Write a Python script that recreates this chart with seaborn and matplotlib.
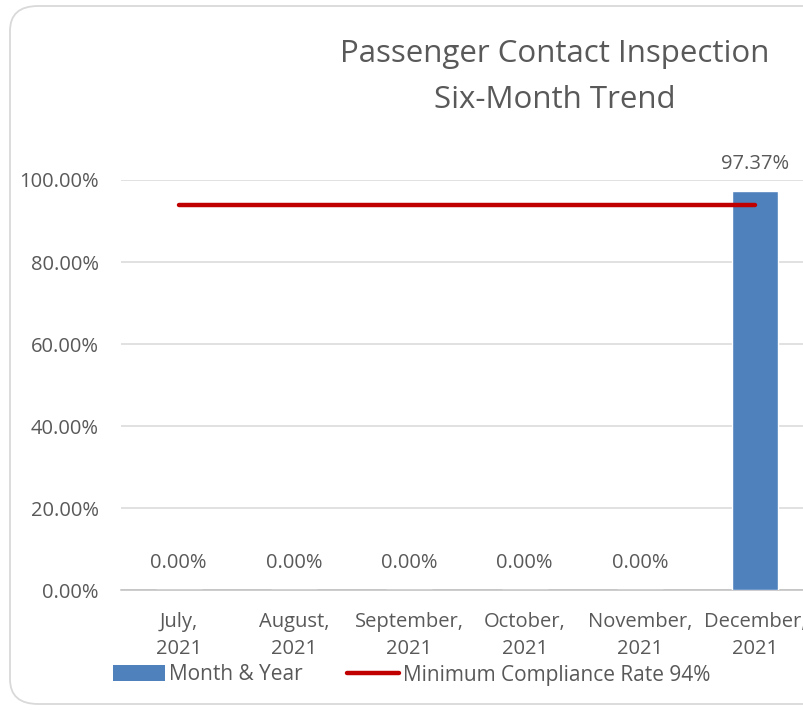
import matplotlib

matplotlib.use("Agg")

import matplotlib.pyplot as plt
import pandas as pd
import seaborn as sns
from matplotlib.lines import Line2D
from matplotlib.patches import FancyBboxPatch, Patch
from matplotlib.ticker import FuncFormatter, MultipleLocator

months = ["July,\n2021", "August,\n2021", "September,\n2021", "October,\n2021",
          "November,\n2021", "December,\n2021"]
compliance = [0.0, 0.0, 0.0, 0.0, 0.0, 0.9737]
minimum_rate = [0.94, 0.94, 0.94, 0.94, 0.94, 0.94]

TEXT = "#595959"
BAR = "#4f81bd"
LINE = "#c00000"
FS = 14.5

sns.set_style("white")
plt.rcParams["font.family"] = ["Open Sans", "DejaVu Sans"]

df = pd.DataFrame({"Month": months, "Rate": compliance, "Minimum": minimum_rate})

fig = plt.figure(figsize=(8.04, 7.10), dpi=100)
fig.patch.set_facecolor("white")

# chart border (Excel-style rounded frame, clipped on the right)
frame = FancyBboxPatch((10 / 804, 6 / 710), 830 / 804, 698 / 710,
                       boxstyle="round,pad=0,rounding_size=0.035",
                       transform=fig.transFigure, facecolor="none",
                       edgecolor="#d9d9d9", linewidth=1.3)
fig.patches.append(frame)

# axes runs past the right edge, like the cropped original
ax = fig.add_axes([121 / 804, 120 / 710, 692 / 804, 410 / 710])

sns.barplot(data=df, x="Month", y="Rate", color=BAR, width=0.4,
            saturation=1, ax=ax, zorder=3)
ax.plot(range(len(months)), df["Minimum"], color=LINE, linewidth=3.2,
        solid_capstyle="round", zorder=4)

for i, v in enumerate(compliance):
    ax.text(i, v + 0.066, f"{v * 100:.2f}%", ha="center", va="center",
            fontsize=FS, color=TEXT, clip_on=False)

ax.set_xlim(-0.5, 5.5)
ax.set_ylim(0, 1)
ax.yaxis.set_major_locator(MultipleLocator(0.2))
ax.yaxis.set_major_formatter(FuncFormatter(lambda v, _: f"{v * 100:.2f}%"))
ax.grid(axis="y", color="#d9d9d9", linewidth=1.1, zorder=0)
ax.set_axisbelow(True)

for side in ["top", "right", "left"]:
    ax.spines[side].set_visible(False)
ax.spines["bottom"].set_color("#bfbfbf")
ax.spines["bottom"].set_linewidth(1.1)

ax.tick_params(axis="y", length=0, labelsize=FS, labelcolor=TEXT, pad=16)
ax.tick_params(axis="x", which="major", length=0, labelsize=FS,
               labelcolor=TEXT, pad=16)
for lbl in ax.get_xticklabels():
    lbl.set_linespacing(1.45)
ax.set_xticks([i - 0.5 for i in range(len(months))], minor=True)
ax.tick_params(axis="x", which="minor", length=7, color="#bfbfbf", width=1.1)
ax.set_xlabel("")
ax.set_ylabel("")

fig.text(555 / 804, 671 / 710, "Passenger Contact Inspection\nSix-Month Trend",
         ha="center", va="top", fontsize=22.5, color=TEXT, linespacing=1.7)

handles = [Patch(facecolor=BAR, edgecolor="none"),
           Line2D([0], [0], color=LINE, linewidth=3.2, solid_capstyle="round")]
fig.legend(handles, ["Month & Year", "Minimum Compliance Rate 94%"],
           loc="center left", bbox_to_anchor=(113 / 804, 35 / 710), ncol=2,
           frameon=False, fontsize=15, labelcolor=TEXT, handlelength=2.5,
           handleheight=0.8, handletextpad=0.2, columnspacing=2.1,
           borderpad=0, borderaxespad=0)

fig.savefig("out.png", dpi=100)
plt.close(fig)
